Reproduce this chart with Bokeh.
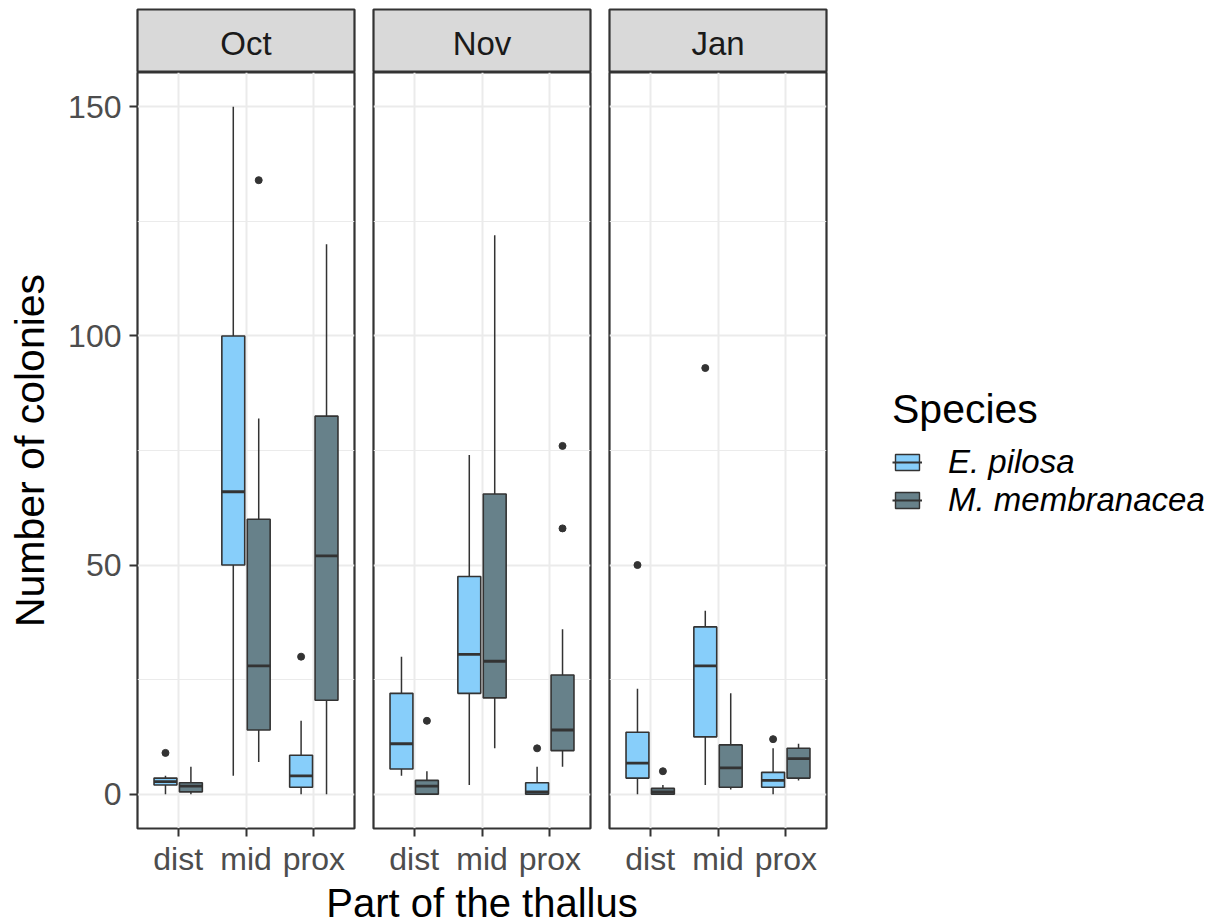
from bokeh.plotting import figure
from bokeh.layouts import row, column
from bokeh.models import Range1d, FixedTicker, ColumnDataSource, Legend, LegendItem
from bokeh.embed import file_html
from bokeh.resources import INLINE
from bokeh.core.properties import value

# --- data -------------------------------------------------------------
months = ["Oct", "Nov", "Jan"]
parts = ["dist", "mid", "prox"]
species = ["E. pilosa", "M. membranacea"]
species_colors = ["#87CEFA", "#67818A"]

# one entry per box, ordered month -> part -> species
box_month = ["Oct"] * 6 + ["Nov"] * 6 + ["Jan"] * 6
box_part = ["dist", "dist", "mid", "mid", "prox", "prox"] * 3
box_species = ["E. pilosa", "M. membranacea"] * 9

lower = [0, 0, 4, 7, 0, 0,
         4, 0, 2, 10, 0, 6,
         0, 0, 2, 1, 0, 3]
q1 = [2, 0.5, 50, 14, 1.5, 20.5,
      5.5, 0, 22, 21, 0, 9.5,
      3.5, 0, 12.5, 1.5, 1.5, 3.5]
median = [2.75, 1.75, 66, 28, 4, 52,
          11, 1.75, 30.5, 29, 0.5, 14,
          6.75, 0.5, 28, 5.75, 3, 7.75]
q3 = [3.5, 2.5, 100, 60, 8.5, 82.5,
      22, 3, 47.5, 65.5, 2.5, 26,
      13.5, 1.25, 36.5, 10.75, 4.75, 10]
upper = [4, 6, 150, 82, 16, 120,
         30, 5, 74, 122, 6, 36,
         23, 2, 40, 22, 10, 11]
outliers = [[9], [], [], [134], [30], [],
            [], [16], [], [], [10], [58, 76],
            [50], [5], [93], [], [12], []]

y_ticks = [0, 50, 100, 150]
y_minor = [25, 75, 125]

x_title = "Part of the thallus"
y_title = "Number of colonies"
legend_title = "Species"

# --- styling ----------------------------------------------------------
FONT = "Liberation Sans"
DARK = "#333333"
GRID = "#EBEBEB"
BOX_W = 0.3375      # dodged box width (in category units)
DODGE = 0.1875      # offset of each species from the category centre
FRAME_W, FRAME_H = 217, 756

y_range = Range1d(-7.5, 157.5)


def species_offset(sp):
    return -DODGE if sp == species[0] else DODGE


def make_panel(i):
    m = months[i]
    idx = [k for k in range(len(box_month)) if box_month[k] == m]
    xs = [parts.index(box_part[k]) + 1 + species_offset(box_species[k]) for k in idx]
    src = ColumnDataSource(dict(
        x=xs,
        x0=[x - BOX_W / 2 for x in xs],
        x1=[x + BOX_W / 2 for x in xs],
        lower=[lower[k] for k in idx],
        q1=[q1[k] for k in idx],
        med=[median[k] for k in idx],
        q3=[q3[k] for k in idx],
        upper=[upper[k] for k in idx],
        color=[species_colors[species.index(box_species[k])] for k in idx],
    ))
    ox, oy = [], []
    for k, x in zip(idx, xs):
        for v in outliers[k]:
            ox.append(x)
            oy.append(v)

    p = figure(frame_width=FRAME_W, frame_height=FRAME_H,
               x_range=Range1d(0.4, 3.6), y_range=y_range,
               min_border_left=137 if i == 0 else 17, min_border_right=2,
               min_border_top=0, min_border_bottom=49,
               y_axis_location="left" if i == 0 else None,
               output_backend="svg", toolbar_location=None, tools="")

    p.outline_line_color = DARK
    p.outline_line_width = 2.2
    p.background_fill_color = "white"

    # grid
    p.xgrid.ticker = FixedTicker(ticks=[1, 2, 3])
    p.ygrid.ticker = FixedTicker(ticks=y_ticks, minor_ticks=y_minor)
    p.xgrid.grid_line_color = GRID
    p.ygrid.grid_line_color = GRID
    p.xgrid.grid_line_width = 2
    p.ygrid.grid_line_width = 2
    p.ygrid.minor_grid_line_color = GRID
    p.ygrid.minor_grid_line_width = 1.2

    # x axis
    xa = p.xaxis[0]
    xa.ticker = FixedTicker(ticks=[1, 2, 3])
    xa.major_label_overrides = {j + 1: parts[j] for j in range(len(parts))}
    xa.axis_line_color = None
    xa.major_tick_line_color = DARK
    xa.major_tick_line_width = 2
    xa.major_tick_out = 8
    xa.major_tick_in = 0
    xa.minor_tick_line_color = None
    xa.major_label_text_font = FONT
    xa.major_label_text_font_size = "32px"
    xa.major_label_text_color = "#4D4D4D"
    xa.major_label_standoff = 4

    if i == 0:
        ya = p.yaxis[0]
        ya.ticker = FixedTicker(ticks=y_ticks)
        ya.axis_line_color = None
        ya.major_tick_line_color = DARK
        ya.major_tick_line_width = 2
        ya.major_tick_out = 8
        ya.major_tick_in = 0
        ya.minor_tick_line_color = None
        ya.major_label_text_font = FONT
        ya.major_label_text_font_size = "32px"
        ya.major_label_text_color = "#4D4D4D"
        ya.major_label_standoff = 8
        ya.axis_label = y_title
        ya.axis_label_text_font = FONT
        ya.axis_label_text_font_size = "41px"
        ya.axis_label_text_font_style = "normal"
        ya.axis_label_text_color = "black"
        ya.axis_label_standoff = 12

    # whiskers
    p.segment(x0="x", y0="q3", x1="x", y1="upper", source=src, line_color=DARK, line_width=1.5)
    p.segment(x0="x", y0="q1", x1="x", y1="lower", source=src, line_color=DARK, line_width=1.5)
    # boxes
    p.vbar(x="x", width=BOX_W, top="q3", bottom="q1", source=src,
           fill_color="color", line_color=DARK, line_width=1.6)
    # medians
    p.segment(x0="x0", y0="med", x1="x1", y1="med", source=src, line_color=DARK, line_width=2.8)
    # outliers
    p.scatter(x=ox, y=oy, size=7, fill_color=DARK, line_color=DARK)
    return p


def make_strip(i):
    s = figure(frame_width=FRAME_W, frame_height=63,
               x_range=Range1d(0, 1), y_range=Range1d(0, 1),
               min_border_left=137 if i == 0 else 17, min_border_right=2,
               min_border_top=9, min_border_bottom=0,
               x_axis_location=None, y_axis_location=None,
               output_backend="svg", toolbar_location=None, tools="")
    s.grid.visible = False
    s.background_fill_color = "#D9D9D9"
    s.outline_line_color = DARK
    s.outline_line_width = 2.2
    s.text(x=[0.5], y=[0.46], text=[months[i]], text_align="center", text_baseline="middle",
           text_font=value(FONT), text_font_size="33px", text_color="#1A1A1A")
    return s


cols = [column(make_strip(i), make_panel(i)) for i in range(len(months))]

# shared x-axis title, centred under the three panels
xt = figure(frame_width=3 * FRAME_W + 2 * 19, frame_height=47,
            x_range=Range1d(0, 1), y_range=Range1d(0, 1),
            min_border_left=137, min_border_right=2, min_border_top=0, min_border_bottom=0,
            x_axis_location=None, y_axis_location=None,
            output_backend="svg", toolbar_location=None, tools="")
xt.grid.visible = False
xt.outline_line_color = None
xt.text(x=[0.5], y=[0.5], text=[x_title], text_align="center", text_baseline="middle",
        text_font=value(FONT), text_font_size="40px", text_color="black")

# legend area
lf = figure(width=389, height=924, x_range=Range1d(0, 1), y_range=Range1d(0, 1),
            x_axis_location=None, y_axis_location=None, min_border=0,
            output_backend="svg", toolbar_location=None, tools="")
lf.grid.visible = False
lf.outline_line_color = None
nan = float("nan")
items = []
for sp, col in zip(species, species_colors):
    r_box = lf.vbar(x="x", top="t", bottom="b", width=0.1,
                    source=ColumnDataSource(dict(x=[nan], t=[nan], b=[nan])),
                    fill_color=col, line_color=DARK, line_width=1.4)
    r_med = lf.segment(x0="x", y0="y", x1="x", y1="y",
                       source=ColumnDataSource(dict(x=[nan], y=[nan])),
                       line_color=DARK, line_width=2)
    items.append(LegendItem(label=sp, renderers=[r_box, r_med]))

leg = Legend(items=items, location=(64, 405), title=legend_title,
             title_text_font=FONT, title_text_font_size="41px", title_text_font_style="normal",
             title_text_color="black", title_standoff=10,
             label_text_font=FONT, label_text_font_size="33px", label_text_font_style="italic",
             label_text_color="black", label_standoff=26,
             glyph_width=30, glyph_height=20, spacing=-4, padding=0, margin=0,
             border_line_color=None, background_fill_color=None)
lf.add_layout(leg)

layout = row(column(row(*cols), xt), lf)

with open("out.html", "w") as f:
    f.write(file_html(layout, INLINE))
